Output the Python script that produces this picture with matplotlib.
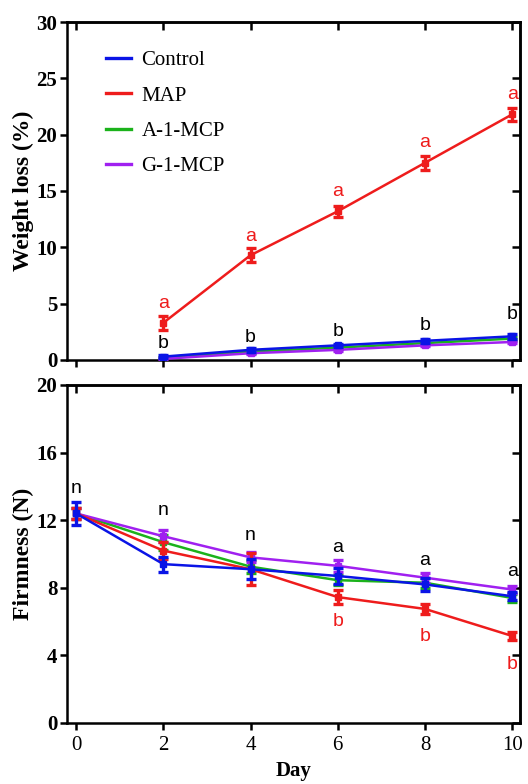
import matplotlib
matplotlib.use("Agg")
import matplotlib.pyplot as plt
from matplotlib.lines import Line2D

days_wl = [2, 4, 6, 8, 10]
days_f = [0, 2, 4, 6, 8, 10]
series = ["Control", "MAP", "A-1-MCP", "G-1-MCP"]
colors = {"Control": "#0a14e6", "MAP": "#ee1c1c", "A-1-MCP": "#1bb21b", "G-1-MCP": "#a020f0"}

# Weight loss (%)
wl_control = [0.3, 0.9, 1.3, 1.7, 2.1]
wl_map = [3.3, 9.3, 13.2, 17.5, 21.8]
wl_a1mcp = [0.2, 0.75, 1.1, 1.5, 1.9]
wl_g1mcp = [0.1, 0.6, 0.9, 1.3, 1.6]
wl_err_control = [0.15, 0.15, 0.15, 0.15, 0.2]
wl_err_map = [0.6, 0.6, 0.5, 0.6, 0.6]
wl_err_a1mcp = [0.1, 0.1, 0.1, 0.1, 0.1]
wl_err_g1mcp = [0.1, 0.1, 0.1, 0.1, 0.1]
wl_letters_map = ["a", "a", "a", "a", "a"]
wl_letters_map_y = [5.0, 11.0, 15.0, 19.3, 23.6]
wl_letters_other = ["b", "b", "b", "b", "b"]
wl_letters_other_y = [1.5, 2.0, 2.5, 3.1, 4.0]
wl_yticks = [0, 5, 10, 15, 20, 25, 30]

# Firmness (N)
f_control = [12.4, 9.4, 9.1, 8.7, 8.2, 7.5]
f_map = [12.4, 10.2, 9.1, 7.45, 6.75, 5.15]
f_a1mcp = [12.4, 10.7, 9.25, 8.45, 8.3, 7.4]
f_g1mcp = [12.4, 11.05, 9.8, 9.3, 8.6, 7.9]
f_err_control = [0.7, 0.45, 0.6, 0.5, 0.4, 0.25]
f_err_map = [0.3, 0.5, 0.95, 0.4, 0.3, 0.25]
f_err_a1mcp = [0.3, 0.45, 0.4, 0.3, 0.3, 0.25]
f_err_g1mcp = [0.3, 0.35, 0.3, 0.35, 0.3, 0.2]
f_letters_top = ["n", "n", "n", "a", "a", "a"]
f_letters_top_y = [13.9, 12.6, 11.1, 10.4, 9.6, 8.95]
f_letters_map = ["b", "b", "b"]
f_letters_map_days = [6, 8, 10]
f_letters_map_y = [6.0, 5.1, 3.45]
f_yticks = [0, 4, 8, 12, 16, 20]
xticks = [0, 2, 4, 6, 8, 10]

serif = "Liberation Serif"
sans = "Liberation Sans"

fig = plt.figure(figsize=(5.28, 7.84), dpi=100)
ax1 = fig.add_axes([67/528, 1-360/784, (520-67)/528, (360-22)/784])
ax2 = fig.add_axes([67/528, 1-723/784, (520-67)/528, (723-385)/784])

lw = 1.8
def plot_series(ax, x, y, e, c, label=None, z=2):
    ax.errorbar(x, y, yerr=e, color=c, lw=lw, elinewidth=2.4, capsize=3.5, capthick=2.4,
                marker="s", ms=4, label=label, zorder=z)

wl_data = {"Control": (wl_control, wl_err_control), "MAP": (wl_map, wl_err_map),
           "A-1-MCP": (wl_a1mcp, wl_err_a1mcp), "G-1-MCP": (wl_g1mcp, wl_err_g1mcp)}
f_data = {"Control": (f_control, f_err_control), "MAP": (f_map, f_err_map),
          "A-1-MCP": (f_a1mcp, f_err_a1mcp), "G-1-MCP": (f_g1mcp, f_err_g1mcp)}

zorders = {"Control": 5, "MAP": 4, "A-1-MCP": 2, "G-1-MCP": 3}
for s in series:
    y, e = wl_data[s]
    plot_series(ax1, days_wl, y, e, colors[s], label=s, z=zorders[s])
    y, e = f_data[s]
    plot_series(ax2, days_f, y, e, colors[s], z=zorders[s])

lfs = 14
for d, t, yy in zip(days_wl, wl_letters_map, wl_letters_map_y):
    ax1.text(d, yy, t, color=colors["MAP"], ha="center", va="center", fontsize=lfs, family=sans)
for d, t, yy in zip(days_wl, wl_letters_other, wl_letters_other_y):
    ax1.text(d, yy, t, color="black", ha="center", va="center", fontsize=lfs, family=sans)
for d, t, yy in zip(days_f, f_letters_top, f_letters_top_y):
    ax2.text(d, yy, t, color="black", ha="center", va="center", fontsize=lfs, family=sans)
for d, t, yy in zip(f_letters_map_days, f_letters_map, f_letters_map_y):
    ax2.text(d, yy, t, color=colors["MAP"], ha="center", va="center", fontsize=lfs, family=sans)

def style(ax, yticks, ylim):
    ax.set_xlim(-0.21, 10.18)
    ax.set_ylim(*ylim)
    ax.set_xticks(xticks)
    ax.set_yticks(yticks)
    for sp in ax.spines.values():
        sp.set_linewidth(1.8)
    ax.tick_params(axis="both", which="major", width=1.8, length=5, direction="out",
                   top=False, right=False, pad=2)
    ax.set_yticklabels([str(v) for v in yticks], fontfamily=serif, fontweight="bold", fontsize=15)
    ax.set_xticklabels([str(v) for v in xticks], fontfamily=serif, fontsize=15)
    sec_x = ax.secondary_xaxis("top")
    sec_x.set_xticks(xticks)
    sec_x.tick_params(direction="in", length=6, width=1.8, labeltop=False)
    sec_x.spines["top"].set_linewidth(1.8)
    sec_y = ax.secondary_yaxis("right")
    sec_y.set_yticks(yticks)
    sec_y.tick_params(direction="in", length=6, width=1.8, labelright=False)
    sec_y.spines["right"].set_linewidth(1.8)

style(ax1, wl_yticks, (0, 30))
style(ax2, f_yticks, (0, 20))
ax1.tick_params(axis="x", labelbottom=False)
ax2.tick_params(axis="x", pad=4)

ax1.set_ylabel("Weight loss (%)", fontsize=17, fontweight="bold", family=serif, labelpad=2)
ax2.set_ylabel("Firmness (N)", fontsize=17, fontweight="bold", family=serif, labelpad=2)
ax2.set_xlabel("Day", fontsize=15, fontweight="bold", family=serif, labelpad=5)

handles = [Line2D([], [], color=colors[s], lw=2.4) for s in series]
ax1.legend(handles, series, loc="upper left", bbox_to_anchor=(0.045, 0.97), frameon=False,
           prop={"family": serif, "size": 15}, handlelength=1.2, handletextpad=0.5,
           labelspacing=0.75)

fig.savefig("out.png", dpi=100)
